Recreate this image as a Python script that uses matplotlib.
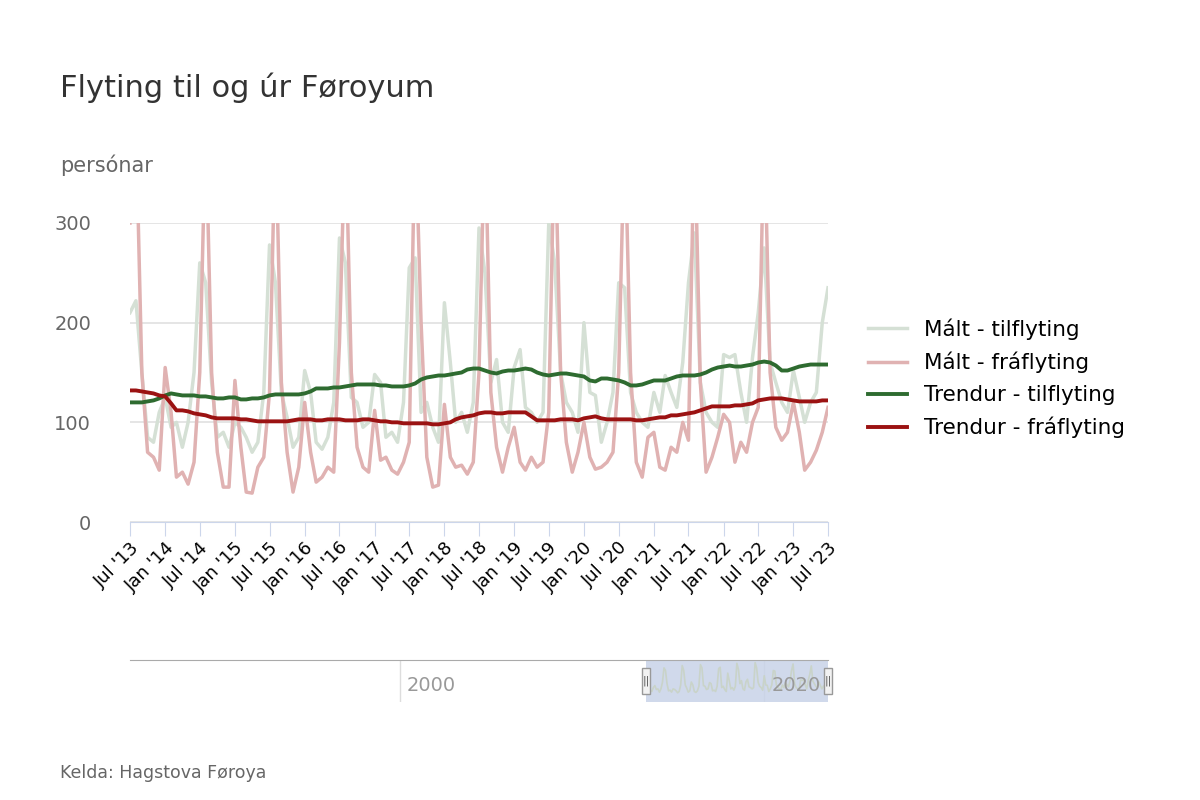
import numpy as np
import pandas as pd
import matplotlib
matplotlib.use("Agg")
import matplotlib.pyplot as plt

# monthly values Jul 2013 .. Jul 2023
malt_til = [
 210,222,150,85,80,110, 125,95,100,75,100,150,
 260,240,140,85,90,75, 100,95,85,70,80,130,
 278,240,130,105,75,85, 152,130,80,73,85,120,
 285,260,125,120,95,100, 148,140,85,90,80,120,
 255,265,110,120,95,80, 220,160,100,110,90,120,
 295,250,140,163,100,90, 155,173,115,110,100,110,
 300,260,150,120,110,90, 200,130,127,80,100,130,
 240,235,130,110,100,95, 130,110,147,130,115,160,
 240,290,140,110,100,95, 168,165,168,130,100,165,
 210,275,160,140,120,110, 152,125,100,120,130,200,
 235]
malt_fra = [
 300,400,150,70,65,52, 155,110,45,50,38,60,
 150,400,150,70,35,35, 142,75,30,29,55,65,
 130,400,140,70,30,55, 120,70,40,45,55,50,
 180,400,150,75,55,50, 112,62,65,52,48,60,
 80,400,200,65,35,37, 118,65,55,57,48,60,
 150,400,130,75,50,75, 95,60,52,65,55,60,
 110,400,150,80,50,70, 100,65,53,55,60,70,
 150,400,150,60,45,85, 90,55,52,75,70,100,
 82,400,140,50,65,85, 108,100,60,80,70,100,
 115,400,150,95,82,90, 120,90,52,60,72,90,
 115]
trend_til = [
 120,120,120,121,122,124, 127,129,128,127,127,127,
 126,126,125,124,124,125, 125,123,123,124,124,125,
 127,128,128,128,128,128, 129,131,134,134,134,135,
 135,136,137,138,138,138, 138,137,137,136,136,136,
 137,139,143,145,146,147, 147,148,149,150,153,154,
 154,152,150,149,151,152, 152,153,154,153,150,148,
 147,148,149,149,148,147, 146,142,141,144,144,143,
 142,140,137,137,138,140, 142,142,142,144,146,147,
 147,147,148,150,153,155, 156,157,156,156,157,158,
 160,161,160,157,152,152, 154,156,157,158,158,158,
 158]
trend_fra = [
 132,132,131,130,129,127, 126,119,112,112,111,109,
 108,107,105,104,104,104, 104,103,103,102,101,101,
 101,101,101,101,102,103, 103,103,102,102,103,103,
 103,102,102,102,103,103, 102,101,101,100,100,99,
 99,99,99,99,98,98, 99,100,103,105,106,107,
 109,110,110,109,109,110, 110,110,110,106,102,102,
 102,102,103,103,103,102, 104,105,106,104,103,103,
 103,103,103,102,102,103, 104,105,105,107,107,108,
 109,110,112,114,116,116, 116,116,117,117,118,119,
 122,123,124,124,124,123, 122,121,121,121,121,122,
 122]

dates = pd.date_range("2013-07-01", periods=121, freq="MS")
tick_dates = pd.date_range("2013-07-01", "2023-07-01", freq="6MS")
tick_labels = [d.strftime("%b '%y") for d in tick_dates]

labels = ["Mált - tilflyting", "Mált - fráflyting", "Trendur - tilflyting", "Trendur - fráflyting"]
colors = ["#d5e0d5", "#e0b2b2", "#2e6b30", "#9b1212"]

fig = plt.figure(figsize=(12, 8), dpi=100)
fig.patch.set_facecolor("white")
ax = fig.add_axes([130/1200, 1-522/800, 698/1200, 299/800])
series = [malt_til, malt_fra, trend_til, trend_fra]
for s, c, l, w in zip(series, colors, labels, [2.5, 2.5, 2.8, 2.8]):
    ax.plot(dates, s, color=c, lw=w, label=l, solid_joinstyle="round")
ax.set_xlim(dates[0], dates[-1])
ax.set_ylim(0, 300)
ax.set_yticks([0, 100, 200, 300])
ax.grid(axis="y", color="#e0e0e0", lw=1.2)
ax.set_axisbelow(True)
for sp in ["top", "right", "left"]:
    ax.spines[sp].set_visible(False)
ax.spines["bottom"].set_color("#ccd6eb")
ax.set_xticks(tick_dates)
ax.set_xticklabels(tick_labels, rotation=45, ha="right", rotation_mode="anchor", fontsize=13)
ax.tick_params(axis="x", color="#ccd6eb", length=10, pad=2)
ax.tick_params(axis="y", length=0, labelsize=14, labelcolor="#666666", pad=28)

leg = ax.legend(loc="center left", bbox_to_anchor=(1.03, 0.48), frameon=False,
                fontsize=15.5, handlelength=1.8, labelspacing=0.55)

fig.text(60/1200, 1-88/800, "Flyting til og úr Føroyum", fontsize=22, color="#333333", va="center")
fig.text(60/1200, 1-165/800, "persónar", fontsize=15, color="#666666", va="center")
fig.text(60/1200, 1-773/800, "Kelda: Hagstova Føroya", fontsize=12.5, color="#666666", va="center")

# navigator
nav = fig.add_axes([130/1200, 1-702/800, 698/1200, 42/800])
nav_x = dates.year + (dates.month - 1) / 12
nav.plot(nav_x, malt_til, color="#c9d3c9", lw=1.2)
nav.set_xlim(1985.2, 2023.5)
nav.set_ylim(0, 320)
nav.axvspan(2013.5, 2023.5, color="#c8d3e8", alpha=0.85, lw=0)
for sp in ["right", "left", "bottom"]:
    nav.spines[sp].set_visible(False)
nav.spines["top"].set_color("#aaaaaa")
nav.set_yticks([])
nav.set_xticks([])
for yr in [2000, 2020]:
    nav.axvline(yr, color="#dddddd", lw=1, zorder=0)
    nav.text(yr + 0.4, 0.4, str(yr), transform=nav.get_xaxis_transform(),
             fontsize=14, color="#999999", va="center", ha="left")
for xh in [2013.5, 2023.5]:
    nav.add_patch(plt.Rectangle((xh - 0.22, 60), 0.44, 200, facecolor="#f2f2f2",
                                edgecolor="#999999", lw=1, clip_on=False, zorder=5))
    nav.text(xh, 160, "||", ha="center", va="center", fontsize=8, color="#555555", zorder=6)

fig.savefig("out.png", dpi=100)
